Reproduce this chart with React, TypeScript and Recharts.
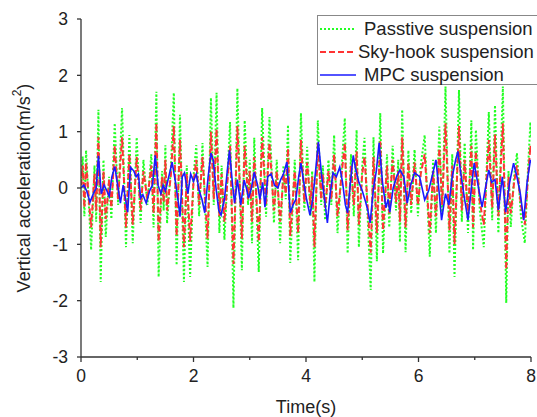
import { LineChart, Line, XAxis, YAxis, Label } from 'recharts';

// sample times (s) of the passive / sky-hook traces
const passiveTime = [
  0.0, 0.03, 0.06, 0.09, 0.14, 0.18, 0.24, 0.27, 0.31, 0.35,
  0.4, 0.44, 0.5, 0.54, 0.6, 0.66, 0.73, 0.8, 0.86, 0.92,
  0.99, 1.06, 1.11, 1.18, 1.25, 1.29, 1.34, 1.38, 1.44, 1.47,
  1.5, 1.53, 1.6, 1.65, 1.7, 1.76, 1.83, 1.88, 1.94, 2.0,
  2.05, 2.1, 2.16, 2.25, 2.31, 2.36, 2.41, 2.46, 2.5, 2.55,
  2.65, 2.71, 2.78, 2.86, 2.91, 2.97, 3.0, 3.04, 3.08, 3.16,
  3.22, 3.29, 3.35, 3.43, 3.48, 3.54, 3.6, 3.64, 3.68, 3.72,
  3.8, 3.86, 3.91, 3.97, 4.02, 4.08, 4.11, 4.15, 4.21, 4.27,
  4.3, 4.34, 4.4, 4.45, 4.5, 4.56, 4.63, 4.69, 4.74, 4.8,
  4.85, 4.9, 4.94, 5.0, 5.04, 5.1, 5.15, 5.2, 5.26, 5.32,
  5.37, 5.44, 5.48, 5.54, 5.6, 5.64, 5.67, 5.71, 5.77, 5.82,
  5.87, 5.93, 5.99, 6.04, 6.11, 6.2, 6.26, 6.31, 6.37, 6.42,
  6.48, 6.55, 6.6, 6.64, 6.72, 6.77, 6.82, 6.88, 6.94, 6.97,
  7.02, 7.09, 7.16, 7.25, 7.31, 7.36, 7.42, 7.5, 7.56, 7.6,
  7.64, 7.7, 7.75, 7.82, 7.89, 7.95, 7.99, 8.0,
];

const passiveValues = [
  0.1, 0.56, -0.5, 0.67, -0.3, -1.1, 0.4, -0.6, 1.39, -1.67,
  0.5, -0.87, 0.2, -0.55, 1.15, -0.3, 1.42, -1.05, 0.94, -0.98,
  0.9, -0.62, 0.5, -0.3, 0.6, -0.7, 1.71, -1.58, 0.3, -0.4,
  0.76, -0.63, 0.4, 1.69, -1.37, 1.3, -1.67, 0.4, -1.58, 0.2,
  0.76, -0.5, 0.8, -1.4, 1.6, -0.3, 1.69, -0.8, 0.4, -0.92,
  1.17, -2.13, 1.77, -1.46, 1.2, -0.3, 0.5, -0.98, 0.89, -1.49,
  1.42, -0.51, 1.26, -0.62, 0.5, -0.98, 0.4, -0.2, 1.12, -1.33,
  0.5, -1.28, 1.33, -0.4, 0.73, -0.5, 0.3, -1.67, 1.2, -0.3,
  0.4, -0.57, 0.5, -0.3, 0.94, -0.8, 0.3, 1.24, -1.16, 0.6,
  -0.5, 1.03, -1.05, 0.4, 0.89, -0.6, -1.81, 0.9, -1.3, 1.33,
  -1.16, 0.6, -0.7, 0.75, -0.4, 0.5, -0.96, 1.39, -1.14, 0.67,
  -0.45, 0.68, -0.5, 0.4, 0.94, -1.22, 0.5, -0.8, 1.09, -0.5,
  1.8, -1.16, 0.6, -1.58, 1.74, -0.6, 0.8, -0.8, 1.2, -1.1,
  1.03, -0.4, -1.05, 1.35, -0.57, 1.47, -0.8, 1.8, -2.04, 0.3,
  -0.69, 0.2, 0.62, -0.5, -0.98, 0.4, 1.17, 0.9,
];

const skyhookValues = [
  0.05, 0.4, -0.35, 0.45, -0.2, -0.7, 0.25, -0.4, 0.9, -1.05,
  0.3, -0.55, 0.15, -0.35, 0.75, -0.2, 0.9, -0.7, 0.6, -0.65,
  0.55, -0.4, 0.3, -0.2, 0.4, -0.45, 1.15, -0.95, 0.2, -0.25,
  0.5, -0.4, 0.25, 1.1, -0.85, 0.85, -1.05, 0.25, -0.95, 0.1,
  0.5, -0.3, 0.55, -0.9, 1.0, -0.2, 1.05, -0.5, 0.25, -0.6,
  0.75, -1.35, 1.1, -0.9, 0.75, -0.2, 0.3, -0.6, 0.55, -0.95,
  0.9, -0.3, 0.8, -0.4, 0.3, -0.6, 0.25, -0.1, 0.7, -0.85,
  0.3, -0.8, 0.85, -0.25, 0.45, -0.3, 0.2, -1.05, 0.8, -0.2,
  0.25, -0.35, 0.3, -0.2, 0.6, -0.5, 0.2, 0.8, -0.75, 0.4,
  -0.3, 0.65, -0.65, 0.25, 0.55, -0.4, -1.15, 0.55, -0.8, 0.85,
  -0.75, 0.4, -0.45, 0.5, -0.25, 0.3, -0.6, 0.9, -0.7, 0.45,
  -0.3, 0.45, -0.3, 0.25, 0.6, -0.8, 0.3, -0.5, 0.7, -0.3,
  1.15, -0.75, 0.4, -1.0, 1.1, -0.4, 0.5, -0.5, 0.75, -0.7,
  0.65, -0.25, -0.65, 0.85, -0.35, 0.95, -0.5, 1.15, -1.45, 0.2,
  -0.45, 0.1, 0.4, -0.3, -0.65, 0.25, 0.75, 0.6,
];

// MPC trace has its own sample times
const mpcTime = [
  0.0, 0.05, 0.1, 0.16, 0.22, 0.27, 0.31, 0.36, 0.41, 0.46,
  0.5, 0.55, 0.6, 0.66, 0.7, 0.75, 0.83, 0.88, 0.94, 0.98,
  1.02, 1.06, 1.1, 1.16, 1.22, 1.27, 1.32, 1.37, 1.42, 1.46,
  1.5, 1.56, 1.62, 1.68, 1.73, 1.76, 1.8, 1.84, 1.9, 1.95,
  2.0, 2.05, 2.1, 2.15, 2.2, 2.26, 2.31, 2.35, 2.4, 2.45,
  2.49, 2.55, 2.6, 2.64, 2.69, 2.73, 2.78, 2.84, 2.9, 2.94,
  2.98, 3.03, 3.08, 3.14, 3.18, 3.23, 3.27, 3.32, 3.38, 3.44,
  3.5, 3.55, 3.6, 3.66, 3.72, 3.77, 3.82, 3.87, 3.91, 3.96,
  4.01, 4.07, 4.12, 4.17, 4.22, 4.28, 4.33, 4.38, 4.43, 4.48,
  4.54, 4.6, 4.65, 4.7, 4.74, 4.79, 4.84, 4.88, 4.94, 5.0,
  5.06, 5.1, 5.14, 5.2, 5.25, 5.3, 5.36, 5.42, 5.46, 5.49,
  5.55, 5.61, 5.67, 5.74, 5.8, 5.86, 5.93, 6.02, 6.11, 6.18,
  6.24, 6.31, 6.36, 6.41, 6.48, 6.54, 6.6, 6.66, 6.7, 6.76,
  6.82, 6.88, 6.94, 6.99, 7.05, 7.13, 7.19, 7.25, 7.3, 7.36,
  7.42, 7.49, 7.55, 7.62, 7.69, 7.75, 7.81, 7.87, 7.93, 7.99,
  8.0,
];

const mpcValues = [
  0.0, 0.05, -0.05, -0.25, -0.1, 0.0, 0.57, -0.1, 0.05, -0.05,
  -0.15, 0.2, 0.38, 0.0, -0.27, 0.05, -0.43, 0.37, 0.3, 0.2,
  0.25, -0.18, -0.12, -0.27, -0.05, 0.05, 0.58, 0.05, -0.1, 0.05,
  -0.05, 0.2, 0.46, 0.1, -0.25, -0.51, 0.2, 0.27, -0.1, 0.25,
  0.12, 0.25, -0.05, -0.2, -0.44, 0.2, 0.62, 0.5, 0.0, -0.4,
  -0.48, -0.2, 0.3, 0.67, 0.1, -0.27, 0.15, -0.3, 0.14, 0.0,
  -0.18, 0.0, 0.28, 0.05, -0.2, 0.1, -0.34, 0.2, 0.25, 0.05,
  0.0, 0.15, 0.25, 0.46, -0.44, -0.3, -0.2, 0.2, 0.44, 0.1,
  -0.2, -0.48, -0.2, 0.3, 0.82, 0.2, -0.2, -0.62, -0.1, 0.27,
  0.2, 0.37, 0.1, -0.3, -0.44, 0.1, 0.58, 0.35, 0.1, -0.05,
  -0.25, -0.4, -0.62, 0.0, 0.3, 0.8, 0.1, -0.35, -0.2, -0.43,
  0.0, 0.2, 0.32, 0.2, -0.27, 0.05, 0.27, 0.2, -0.21, -0.05,
  0.2, 0.5, 0.0, -0.57, -0.1, -0.3, 0.2, 0.5, 0.65, 0.2,
  -0.2, -0.57, 0.0, 0.44, 0.1, -0.34, 0.0, 0.32, 0.1, 0.15,
  -0.39, 0.2, -0.43, 0.1, 0.44, 0.2, -0.1, -0.57, 0.1, 0.5,
  0.45,
];

const xTicks = [0, 1, 2, 3, 4, 5, 6, 7, 8];
const yTicks = [-3, -2, -1, 0, 1, 2, 3];

const FONT = '"Liberation Sans", Arial, sans-serif';
const AXIS = '#333';
const TEXT = '#222';

const series = [
  { name: 'Passtive suspension', color: '#22ff22', dash: '2 2', width: 2, gap: 46 },
  { name: 'Sky-hook suspension', color: '#ff3333', dash: '6 3', width: 2, gap: 40 },
  { name: 'MPC suspension', color: '#1a1aff', dash: undefined, width: 1.6, gap: 46 },
];

const passiveData = passiveTime.map((t, i) => ({ t, v: passiveValues[i] }));
const skyhookData = passiveTime.map((t, i) => ({ t, v: skyhookValues[i] }));
const mpcData = mpcTime.map((t, i) => ({ t, v: mpcValues[i] }));

function TimeTick({ x, y, payload }: any) {
  const major = payload.value % 2 === 0;
  return (
    <g>
      <line x1={x} y1={y} x2={x} y2={y + (major ? 5 : 3)} stroke={AXIS} strokeWidth={1.3} />
      {major && (
        <text x={x} y={y + 13} dy="0.71em" textAnchor="middle" fill={TEXT} fontSize={17.5} fontFamily={FONT}>
          {payload.value}
        </text>
      )}
    </g>
  );
}

function YTitle({ viewBox }: any) {
  const cx = viewBox.x + 24;
  const cy = viewBox.y + viewBox.height / 2;
  return (
    <text
      x={cx}
      y={cy}
      transform={`rotate(-90 ${cx} ${cy})`}
      textAnchor="middle"
      dominantBaseline="central"
      fill={TEXT}
      fontSize={18}
      fontFamily={FONT}
    >
      Vertical acceleration(m/s
      <tspan dy={-7} fontSize={12}>2</tspan>
      <tspan dy={7}>)</tspan>
    </text>
  );
}

function XTitle({ viewBox }: any) {
  const cx = viewBox.x + viewBox.width / 2;
  const cy = viewBox.y + 50;
  return (
    <text x={cx} y={cy} textAnchor="middle" dominantBaseline="central" fill={TEXT} fontSize={18} fontFamily={FONT}>
      Time(s)
    </text>
  );
}

function LegendBox() {
  return (
    <div
      style={{
        position: 'absolute',
        left: 317,
        top: 15,
        width: 240,
        height: 70,
        border: '1px solid #888',
        background: '#fff',
        fontFamily: FONT,
        fontSize: 18.5,
        color: TEXT,
        boxSizing: 'border-box',
      }}
    >
      {series.map((s, i) => (
        <div key={s.name} style={{ position: 'absolute', left: 0, top: 2 + i * 23, height: 22, width: 300, whiteSpace: 'nowrap' }}>
          <svg width={40} height={22} style={{ position: 'absolute', left: 0, top: 0 }}>
            <line x1={2} y1={11} x2={38} y2={11} stroke={s.color} strokeWidth={s.width} strokeDasharray={s.dash} />
          </svg>
          <span style={{ position: 'absolute', left: s.gap, top: 0, lineHeight: '22px' }}>{s.name}</span>
        </div>
      ))}
    </div>
  );
}

export default function App() {
  return (
    <div style={{ position: 'absolute', left: 0, top: 0, width: 537, height: 417, overflow: 'hidden', background: '#fff' }}>
      <LineChart width={537} height={417} margin={{ top: 19, right: 6, bottom: 0, left: 0 }}>
        <XAxis
          dataKey="t"
          type="number"
          domain={[0, 8]}
          ticks={xTicks}
          interval={0}
          allowDataOverflow
          height={60}
          tickSize={0}
          tickMargin={0}
          tickLine={false}
          tick={<TimeTick />}
          axisLine={{ stroke: AXIS, strokeWidth: 1.3 }}
        >
          <Label content={XTitle} />
        </XAxis>
        <YAxis
          type="number"
          domain={[-3, 3]}
          ticks={yTicks}
          interval={0}
          allowDataOverflow
          width={81}
          tickSize={4}
          tickMargin={9}
          tickLine={{ stroke: AXIS, strokeWidth: 1.3 }}
          axisLine={{ stroke: AXIS, strokeWidth: 1.3 }}
          tick={{ fill: TEXT, fontSize: 17.5, fontFamily: FONT }}
        >
          <Label content={YTitle} />
        </YAxis>
        <Line
          data={passiveData}
          dataKey="v"
          type="linear"
          stroke={series[0].color}
          strokeWidth={series[0].width}
          strokeDasharray={series[0].dash}
          dot={false}
          activeDot={false}
          isAnimationActive={false}
        />
        <Line
          data={skyhookData}
          dataKey="v"
          type="linear"
          stroke={series[1].color}
          strokeWidth={series[1].width}
          strokeDasharray={series[1].dash}
          dot={false}
          activeDot={false}
          isAnimationActive={false}
        />
        <Line
          data={mpcData}
          dataKey="v"
          type="linear"
          stroke={series[2].color}
          strokeWidth={series[2].width}
          dot={false}
          activeDot={false}
          isAnimationActive={false}
        />
      </LineChart>
      <LegendBox />
    </div>
  );
}
